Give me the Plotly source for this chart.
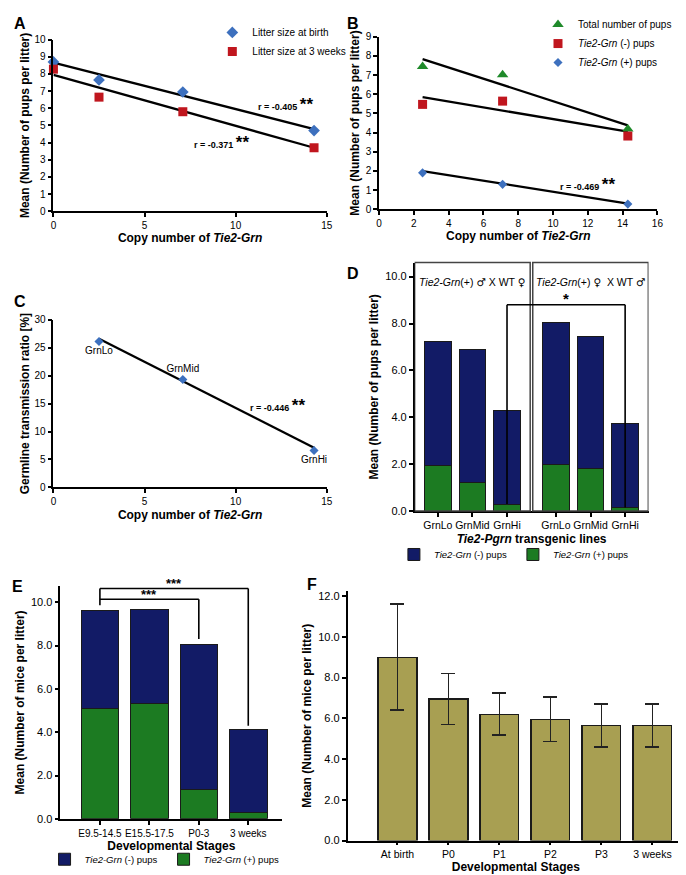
import plotly.graph_objects as go

# ---------------- data ----------------
# Panel A
copy_a = [0, 2.5, 7.1, 14.3]
birth_a = [8.7, 7.65, 6.95, 4.7]
weeks3_a = [8.28, 6.65, 5.8, 3.7]
fit_x_a = [0, 14.3]
fit_birth_a = [8.66, 4.79]
fit_weeks3_a = [7.95, 3.7]

# Panel B
copy_b = [2.5, 7.1, 14.3]
total_b = [7.44, 7.01, 4.18]
neg_b = [5.47, 5.64, 3.82]
pos_b = [1.9, 1.3, 0.27]
fit_x_b = [2.5, 14.3]
fit_total_b = [7.83, 4.38]
fit_neg_b = [5.85, 4.05]
fit_pos_b = [1.99, 0.3]

# Panel C
copy_c = [2.5, 7.1, 14.3]
germline_c = [26.1, 19.3, 6.6]
lines_c = ["GrnLo", "GrnMid", "GrnHi"]
label_pos_c = ["bottom center", "top center", "bottom center"]
fit_x_c = [2.5, 14.3]
fit_c = [26.6, 7.1]

# Panel D
lines_d = ["GrnLo", "GrnMid", "GrnHi"]
SYM = "<span style='font-family:DejaVu Sans'>{}</span>"
crosses_d = [f"<i>Tie2-Grn</i>(+) {SYM.format('♂')} X WT {SYM.format('♀')}",
             f"<i>Tie2-Grn</i>(+) {SYM.format('♀')}  X WT {SYM.format('♂')}"]
total_d = [[7.25, 6.9, 4.3], [8.05, 7.45, 3.75]]
pos_d = [[1.95, 1.2, 0.3], [2.0, 1.8, 0.15]]

# Panel E
stages_e = ["E9.5-14.5", "E15.5-17.5", "P0-3", "3 weeks"]
total_e = [9.62, 9.66, 8.07, 4.14]
pos_e = [5.09, 5.33, 1.37, 0.27]

# Panel F
stages_f = ["At birth", "P0", "P1", "P2", "P3", "3 weeks"]
mean_f = [9.0, 6.95, 6.2, 5.95, 5.65, 5.65]
err_f = [2.6, 1.25, 1.03, 1.1, 1.05, 1.05]

# ---------------- styling ----------------
W, H = 686, 875
FONT = "Liberation Sans, Arial, Helvetica, sans-serif"
BLUE_PT = "#3D70BE"
RED_PT = "#C0161E"
GREEN_PT = "#1F8A2A"
NAVY = "#121B66"
GREEN_BAR = "#1C7B22"
OLIVE = "#A89F52"
EDGE = "#1a1a1a"


def dx(l, r):
    return [l / W, r / W]


def dy(top, bottom):
    return [1 - bottom / H, 1 - top / H]


def axis(**kw):
    base = dict(showline=True, linecolor="black", linewidth=1.5, ticks="outside",
                ticklen=4, tickwidth=1.5, tickcolor="black", showgrid=False,
                zeroline=False, tickangle=0, tickfont=dict(size=10, color="black"))
    base.update(kw)
    return base


def title(text, standoff, size=12):
    return dict(text=f"<b>{text}</b>", standoff=standoff, font=dict(size=size, color="black"))


fig = go.Figure()

# ---------- Panel A ----------
fig.add_trace(go.Scatter(x=fit_x_a, y=fit_birth_a, mode="lines", line=dict(color="black", width=2.3),
                         showlegend=False, xaxis="x", yaxis="y"))
fig.add_trace(go.Scatter(x=fit_x_a, y=fit_weeks3_a, mode="lines", line=dict(color="black", width=2.3),
                         showlegend=False, xaxis="x", yaxis="y"))
fig.add_trace(go.Scatter(x=copy_a, y=birth_a, mode="markers", name="Litter size at birth",
                         marker=dict(symbol="diamond", size=9, color=BLUE_PT), cliponaxis=False,
                         xaxis="x", yaxis="y", legend="legend"))
fig.add_trace(go.Scatter(x=copy_a, y=weeks3_a, mode="markers", name="Litter size at 3 weeks",
                         marker=dict(symbol="square", size=9, color=RED_PT), cliponaxis=False,
                         xaxis="x", yaxis="y", legend="legend"))

# ---------- Panel B ----------
for fy in (fit_total_b, fit_neg_b, fit_pos_b):
    fig.add_trace(go.Scatter(x=fit_x_b, y=fy, mode="lines", line=dict(color="black", width=2.3),
                             showlegend=False, xaxis="x2", yaxis="y2"))
fig.add_trace(go.Scatter(x=copy_b, y=total_b, mode="markers", name="Total number of pups",
                         marker=dict(symbol="triangle-up", size=10, color=GREEN_PT), cliponaxis=False,
                         xaxis="x2", yaxis="y2", legend="legend2"))
fig.add_trace(go.Scatter(x=copy_b, y=neg_b, mode="markers", name="<i>Tie2-Grn</i> (-) pups",
                         marker=dict(symbol="square", size=9, color=RED_PT), cliponaxis=False,
                         xaxis="x2", yaxis="y2", legend="legend2"))
fig.add_trace(go.Scatter(x=copy_b, y=pos_b, mode="markers", name="<i>Tie2-Grn</i> (+) pups",
                         marker=dict(symbol="diamond", size=7, color=BLUE_PT), cliponaxis=False,
                         xaxis="x2", yaxis="y2", legend="legend2"))

# ---------- Panel C ----------
fig.add_trace(go.Scatter(x=fit_x_c, y=fit_c, mode="lines", line=dict(color="black", width=2.3),
                         showlegend=False, xaxis="x3", yaxis="y3"))
fig.add_trace(go.Scatter(x=copy_c, y=germline_c, mode="markers+text", text=lines_c,
                         textposition=label_pos_c, textfont=dict(size=10, color="black"),
                         marker=dict(symbol="diamond", size=7, color=BLUE_PT), showlegend=False,
                         cliponaxis=False, xaxis="x3", yaxis="y3"))

# ---------- Panel D ----------
GROUP_STEP = 3.414
xpos_d = [[g * GROUP_STEP + i for i in range(len(lines_d))] for g in range(len(crosses_d))]
flat_x = [x for row in xpos_d for x in row]
flat_pos = [v for row in pos_d for v in row]
flat_neg = [t - p for rt, rp in zip(total_d, pos_d) for t, p in zip(rt, rp)]
flat_lbl = [l for _ in crosses_d for l in lines_d]

fig.add_trace(go.Bar(x=flat_x, y=flat_pos, width=0.77, name="<i>Tie2-Grn</i> (+) pups",
                     marker=dict(color=GREEN_BAR, line=dict(color=EDGE, width=1)),
                     xaxis="x4", yaxis="y4", legend="legend3"))
fig.add_trace(go.Bar(x=flat_x, y=flat_neg, width=0.77, name="<i>Tie2-Grn</i> (-) pups",
                     marker=dict(color=NAVY, line=dict(color=EDGE, width=1)),
                     xaxis="x4", yaxis="y4", legend="legend3"))

# ---------- Panel E ----------
neg_e = [t - p for t, p in zip(total_e, pos_e)]
fig.add_trace(go.Bar(x=stages_e, y=pos_e, width=0.76, name="<i>Tie2-Grn</i> (+) pups",
                     marker=dict(color=GREEN_BAR, line=dict(color=EDGE, width=1)),
                     xaxis="x5", yaxis="y5", legend="legend4"))
fig.add_trace(go.Bar(x=stages_e, y=neg_e, width=0.76, name="<i>Tie2-Grn</i> (-) pups",
                     marker=dict(color=NAVY, line=dict(color=EDGE, width=1)),
                     xaxis="x5", yaxis="y5", legend="legend4"))

# ---------- Panel F ----------
fig.add_trace(go.Bar(x=stages_f, y=mean_f, width=0.76, showlegend=False,
                     marker=dict(color=OLIVE, line=dict(color=EDGE, width=1.3)),
                     error_y=dict(type="data", array=err_f, color="#222222", thickness=1.5, width=7),
                     xaxis="x6", yaxis="y6"))

# ---------------- shapes & annotations ----------------
shapes = []
annotations = []

# Panel D boxes and headers
for g, cross in enumerate(crosses_d):
    x0 = xpos_d[g][0] - 0.67
    x1 = xpos_d[g][-1] + 0.67
    shapes.append(dict(type="rect", xref="x4", yref="y4 domain", x0=x0, x1=x1, y0=0, y1=1,
                       line=dict(color="#444444", width=1.5), layer="above"))
    annotations.append(dict(x=(x0 + x1) / 2, y=0.952, xref="x4", yref="y4 domain", text=cross,
                            showarrow=False, font=dict(size=10.5, color="black")))

# Panel D significance bracket
bx0, bx1 = xpos_d[0][2], xpos_d[1][2]
by = 8.8
shapes += [
    dict(type="line", xref="x4", yref="y4", x0=bx0, x1=bx1, y0=by, y1=by, line=dict(color="black", width=1.6)),
    dict(type="line", xref="x4", yref="y4", x0=bx0, x1=bx0, y0=pos_d[0][2], y1=by, line=dict(color="black", width=1.6)),
    dict(type="line", xref="x4", yref="y4", x0=bx1, x1=bx1, y0=pos_d[1][2], y1=by, line=dict(color="black", width=1.6)),
]
annotations.append(dict(x=(bx0 + bx1) / 2, y=by, xref="x4", yref="y4", text="<b>*</b>", showarrow=False,
                        yanchor="bottom", font=dict(size=15, color="black"), yshift=-4))

# Panel E brackets
lo_y, hi_y = 10.14, 10.64
shapes += [
    dict(type="line", xref="x5", yref="y5", x0=0, x1=0, y0=9.86, y1=hi_y, line=dict(color="black", width=1.6)),
    dict(type="line", xref="x5", yref="y5", x0=0, x1=2, y0=lo_y, y1=lo_y, line=dict(color="black", width=1.6)),
    dict(type="line", xref="x5", yref="y5", x0=2, x1=2, y0=8.3, y1=lo_y, line=dict(color="black", width=1.6)),
    dict(type="line", xref="x5", yref="y5", x0=0, x1=3, y0=hi_y, y1=hi_y, line=dict(color="black", width=1.6)),
    dict(type="line", xref="x5", yref="y5", x0=3, x1=3, y0=4.3, y1=hi_y, line=dict(color="black", width=1.6)),
]
annotations.append(dict(x=1, y=lo_y, xref="x5", yref="y5", text="<b>***</b>", showarrow=False,
                        yanchor="bottom", font=dict(size=13, color="black"), yshift=-5))
annotations.append(dict(x=1.5, y=hi_y, xref="x5", yref="y5", text="<b>***</b>", showarrow=False,
                        yanchor="bottom", font=dict(size=13, color="black"), yshift=-5))


# r-value annotations
def rtext(r):
    return f"<b>r = {r}</b> <b><span style='font-size:17px'>**</span></b>"


annotations += [
    dict(x=11.1, y=6.2, xref="x", yref="y", text=rtext("-0.405"), showarrow=False, xanchor="left",
         font=dict(size=9, color="black")),
    dict(x=7.6, y=4.0, xref="x", yref="y", text=rtext("-0.371"), showarrow=False, xanchor="left",
         font=dict(size=9, color="black")),
    dict(x=10.3, y=1.3, xref="x2", yref="y2", text=rtext("-0.469"), showarrow=False, xanchor="left",
         font=dict(size=9, color="black")),
    dict(x=10.7, y=14.6, xref="x3", yref="y3", text=rtext("-0.446"), showarrow=False, xanchor="left",
         font=dict(size=9, color="black")),
]

# panel letters
for letter, px, py in [("A", 9, 10), ("B", 347, 10), ("C", 9, 292), ("D", 347, 263), ("E", 7, 580), ("F", 305, 578)]:
    annotations.append(dict(x=px / W, y=1 - py / H, xref="paper", yref="paper", text=f"<b>{letter}</b>",
                            showarrow=False, xanchor="center", yanchor="middle",
                            font=dict(size=16, color="black")))

legend_common = dict(bgcolor="rgba(0,0,0,0)", font=dict(size=10, color="black"), borderwidth=0)
legend_bar = dict(bgcolor="rgba(0,0,0,0)", font=dict(size=9.5, color="black"), borderwidth=0)

fig.update_layout(
    width=W, height=H, margin=dict(l=0, r=0, t=0, b=0),
    paper_bgcolor="white", plot_bgcolor="white",
    font=dict(family=FONT, color="black"),
    barmode="stack",
    xaxis=axis(domain=dx(43, 320), range=[0, 15], dtick=5, anchor="y",
               title=title("Copy number of <i>Tie2-Grn</i>", 4)),
    yaxis=axis(domain=dy(26, 200), range=[0, 10], dtick=1, anchor="x",
               title=title("Mean (Number of pups per litter)", 2)),
    xaxis2=axis(domain=dx(373, 655), range=[0, 16], dtick=2, anchor="y2",
                title=title("Copy number of <i>Tie2-Grn</i>", 4)),
    yaxis2=axis(domain=dy(23, 198), range=[0, 9], dtick=1, anchor="x2",
                title=title("Mean (Number of pups per litter)", 4)),
    xaxis3=axis(domain=dx(43, 320), range=[0, 15], dtick=5, anchor="y3",
                title=title("Copy number of <i>Tie2-Grn</i>", 4)),
    yaxis3=axis(domain=dy(310, 480), range=[0, 30], dtick=5, anchor="x3",
                title=title("Germline transmission ratio [%]", 2)),
    xaxis4=axis(domain=dx(409, 646), range=[-0.67, 6.09], anchor="y4",
                tickvals=flat_x, ticktext=flat_lbl, tickfont=dict(size=10.5, color="black"),
                title=title("<i>Tie2-Pgrn</i> transgenic lines", 4)),
    yaxis4=axis(domain=dy(252, 504), range=[0, 10.6], dtick=2, tickformat=".1f", anchor="x4",
                tickfont=dict(size=11, color="black"),
                title=title("Mean (Number of pups per litter)", 4)),
    xaxis5=axis(domain=dx(50, 275), range=[-0.8, 3.69], anchor="y5",
                tickfont=dict(size=10, color="black"),
                title=title("Developmental Stages", 2)),
    yaxis5=axis(domain=dy(580, 816), range=[0, 10.75], dtick=2, tickformat=".1f", anchor="x5",
                tickfont=dict(size=11, color="black"),
                title=title("Mean (Number of mice per litter)", 4)),
    xaxis6=axis(domain=dx(341, 682), range=[-0.98, 5.62], anchor="y6", ticklen=3,
                tickfont=dict(size=10.5, color="black"),
                title=title("Developmental Stages", 0)),
    yaxis6=axis(domain=dy(585, 838), range=[0, 12.25], dtick=2, tickformat=".1f", anchor="x6",
                tickfont=dict(size=11, color="black"),
                title=title("Mean (Number of mice per litter)", 4)),
    legend=dict(x=204 / W, y=1 - 4 / H, xanchor="left", yanchor="top", traceorder="normal",
                **legend_common),
    legend2=dict(x=534 / W, y=1 + 4 / H, xanchor="left", yanchor="top", traceorder="normal",
                 **legend_common),
    legend3=dict(x=388 / W, y=1 - 548 / H, xanchor="left", yanchor="middle", orientation="h",
                 traceorder="reversed", entrywidth=74, **legend_bar),
    legend4=dict(x=34 / W, y=1 - 857 / H, xanchor="left", yanchor="middle", orientation="h",
                 traceorder="reversed", entrywidth=74, **legend_bar),
    shapes=shapes,
    annotations=annotations,
)

fig.write_html("out.html")
